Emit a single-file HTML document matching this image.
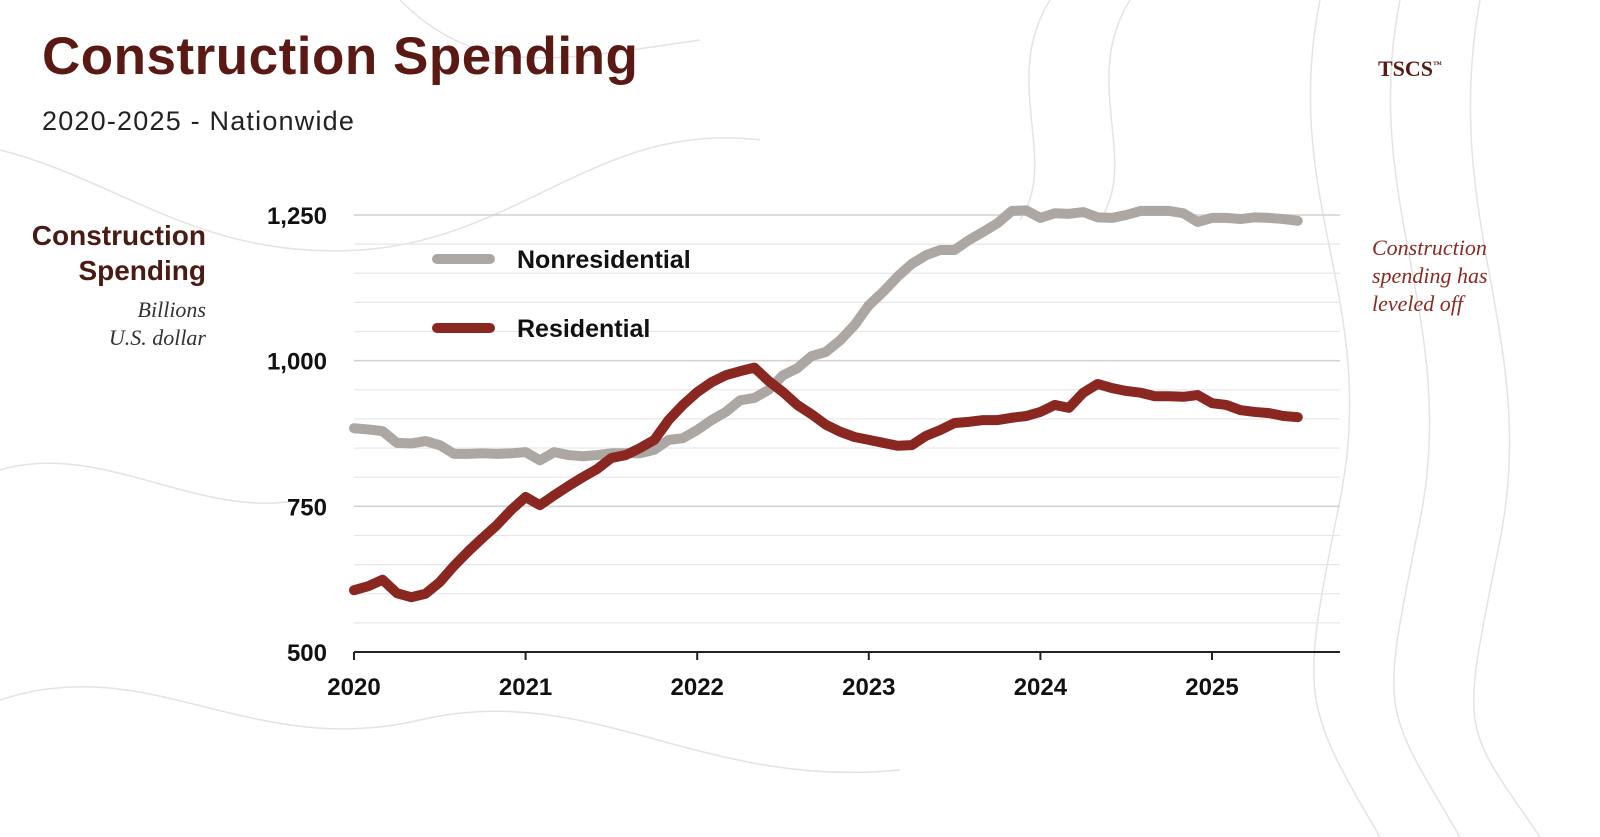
<!DOCTYPE html>
<html><head><meta charset="utf-8"><style>
body{margin:0;width:1600px;height:837px;background:#fff;overflow:hidden;position:relative;font-family:"Liberation Sans",sans-serif}
.t{position:absolute;white-space:nowrap}
</style></head><body>
<svg id="bg" width="1600" height="837" style="position:absolute;left:0;top:0">
<g fill="none" stroke="#e6e2e4" stroke-width="1.5">
<path d="M0 150 C120 180 200 260 360 250 S600 120 760 140"/>
<path d="M0 470 C100 440 200 520 300 500"/>
<path d="M0 700 C150 650 250 760 420 720 S700 790 900 770"/>
<path d="M1320 0 C1280 200 1380 300 1340 500 S1300 700 1380 837"/>
<path d="M1400 0 C1360 200 1460 320 1420 520 S1380 700 1460 837"/>
<path d="M1480 0 C1440 220 1540 340 1500 540 S1460 720 1540 837"/>
<path d="M1050 0 C1000 80 1060 160 1020 220"/>
<path d="M1130 0 C1080 80 1140 160 1100 220"/>
<path d="M400 0 C480 80 560 60 700 40"/>
</g>
</svg>
<div class="t" style="left:42px;top:26px;font-size:53px;font-weight:bold;color:#5a1a13;letter-spacing:0.5px">Construction Spending</div>
<div class="t" style="left:42px;top:106px;font-size:27px;color:#222;letter-spacing:1.2px">2020-2025 - Nationwide</div>
<div class="t" style="left:1378px;top:56px;font-family:'Liberation Serif',serif;font-weight:bold;font-size:22px;color:#5a1a13">TSCS<sup style="font-size:9px">™</sup></div>
<div class="t" style="right:1394px;top:218px;font-size:28px;font-weight:bold;color:#4a1a14;text-align:right;line-height:35px">Construction<br>Spending</div>
<div class="t" style="right:1394px;top:296px;font-family:'Liberation Serif',serif;font-style:italic;font-size:22px;color:#333;text-align:right;line-height:28px">Billions<br>U.S. dollar</div>
<div class="t" style="left:1372px;top:234px;font-family:'Liberation Serif',serif;font-style:italic;font-size:22px;color:#8b2a20;line-height:28px">Construction<br>spending has<br>leveled off</div>
<svg id="chart" width="1600" height="837" style="position:absolute;left:0;top:0"></svg>
<script>
const years=["2020","2021","2022","2023","2024","2025"];
const yTicks=[500,750,1000,1250];
const nonres=[884,882,879,859,858,862,855,840,840,841,840,841,843,829,843,838,836,838,841,841,841,847,864,867,881,898,912,932,936,950,975,987,1008,1015,1035,1061,1095,1118,1144,1166,1181,1190,1190,1207,1221,1236,1257,1258,1245,1253,1252,1255,1246,1245,1250,1257,1257,1257,1253,1238,1245,1245,1243,1246,1245,1243,1240];
const resid=[606,613,624,601,594,600,620,648,673,696,718,744,766,752,769,785,800,814,833,838,850,864,898,924,946,963,975,982,988,965,946,924,908,890,878,869,864,859,854,855,871,881,893,895,898,898,902,905,912,924,919,945,960,953,948,945,939,939,938,941,927,924,915,912,910,905,903];
const NS="http://www.w3.org/2000/svg";
const svg=document.getElementById('chart');
const x=m=>354+m*(1212-354)/60;
const y=v=>652-(v-500)*437/750;
function el(t,a){const e=document.createElementNS(NS,t);for(const k in a)e.setAttribute(k,a[k]);svg.appendChild(e);return e;}
for(let v=500;v<=1250;v+=50){
  if(v===500)continue;
  const g=el('line',{x1:354,x2:1340,y1:y(v),y2:y(v),stroke:v%250===0?'#d4d2d2':'#e8e6e6','stroke-width':v%250===0?1.6:1.2});
  
  
}
yTicks.forEach(v=>{
  const t=el('text',{x:327,y:y(v)+9,'text-anchor':'end','font-size':24,'font-weight':'bold',fill:'#111','font-family':'Liberation Sans, sans-serif'});
  t.textContent=v.toLocaleString('en-US');
  
  
});
const ax=el('line',{x1:354,x2:1340,y1:652,y2:652,stroke:'#222','stroke-width':2});


years.forEach((yr,i)=>{
  const xm=x(i*12);
  const tk=el('line',{x1:xm,x2:xm,y1:652,y2:660,stroke:'#222','stroke-width':2});
  
  
  const t=el('text',{x:xm,y:695,'text-anchor':'middle','font-size':24,'font-weight':'bold',fill:'#111','font-family':'Liberation Sans, sans-serif'});
  t.textContent=yr;
  
  
});
function line(d,c,name){
  const p=el('polyline',{points:d.map((v,i)=>x(i)+','+y(v)).join(' '),fill:'none',stroke:c,'stroke-width':10,'stroke-linejoin':'round','stroke-linecap':'round'});
  
  
}
line(nonres,'#aca7a3','nonresidential-line');
line(resid,'#8b2721','residential-line');
[['Nonresidential','#aca7a3',259],['Residential','#8b2721',328]].forEach(([n,c,yy])=>{
  const l=el('line',{x1:437,x2:490,y1:yy,y2:yy,stroke:c,'stroke-width':10,'stroke-linecap':'round'});
  
  
  const t=el('text',{x:517,y:yy+9,'font-size':25,'font-weight':'bold',fill:'#111','font-family':'Liberation Sans, sans-serif'});
  t.textContent=n;
  
  
});
</script>
</body></html>
